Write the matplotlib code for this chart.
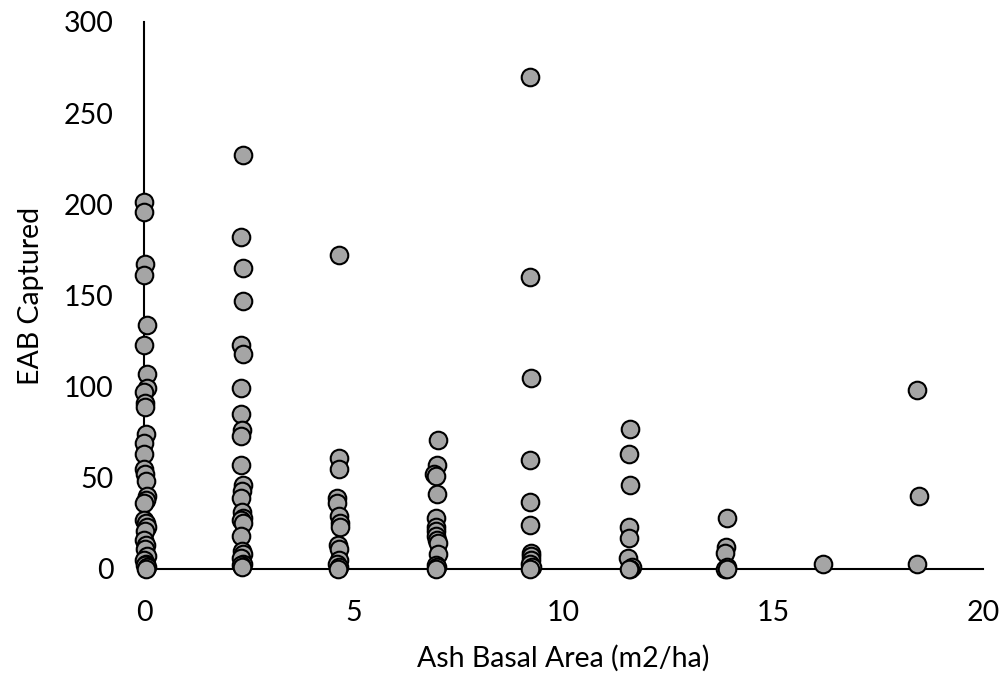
import numpy as np
import matplotlib
matplotlib.use("Agg")
import matplotlib.pyplot as plt

# ash basal area (m2/ha) per trap and beetles captured, grouped by stand
x_g1 = [0.0, 0.0, 0.02, 0.0, 0.08, 0.0, 0.08, 0.08, 0.0, 0.03, 0.02, 0.05, 0.0, 0.0,
        0.0, 0.02, 0.05, 0.08, 0.05, 0.0, 0.0, 0.05, 0.08, 0.02, 0.0, 0.05, 0.02,
        0.08, 0.0, 0.05, 0.02, 0.08, 0.05]
y_g1 = [201, 196, 167, 161, 134, 123, 107, 99, 97, 91, 89, 74, 69, 63,
        55, 52, 48, 40, 38, 36, 27, 25, 23, 21, 16, 13, 11,
        7, 5, 3, 2, 1, 0]

x_g2 = [2.37, 2.32, 2.37, 2.37, 2.32, 2.37, 2.32, 2.32, 2.34, 2.32, 2.32, 2.37, 2.34,
        2.32, 2.34, 2.37, 2.32, 2.37, 2.32, 2.34, 2.37, 2.32, 2.37, 2.32, 2.34]
y_g2 = [227, 182, 165, 147, 123, 118, 99, 85, 76, 73, 57, 46, 43,
        39, 31, 28, 27, 25, 18, 10, 8, 6, 3, 2, 1]

x_g3 = [4.65, 4.65, 4.65, 4.6, 4.6, 4.65, 4.67, 4.67, 4.62, 4.65, 4.65, 4.6, 4.65, 4.62]
y_g3 = [172, 61, 55, 39, 36, 29, 25, 23, 13, 11, 5, 3, 1, 0]

x_g4 = [7.0, 6.98, 6.92, 6.95, 6.98, 6.95, 6.95, 6.97, 6.95, 6.98, 7.0, 7.0, 6.95, 6.98, 6.95]
y_g4 = [71, 57, 52, 51, 41, 28, 23, 21, 18, 16, 14, 8, 2, 1, 0]

x_g5 = [9.2, 9.2, 9.22, 9.2, 9.2, 9.2, 9.22, 9.22, 9.22, 9.2, 9.25, 9.2]
y_g5 = [270, 160, 105, 60, 37, 24, 9, 7, 5, 3, 1, 0]

x_g6 = [11.58, 11.55, 11.58, 11.55, 11.55, 11.53, 11.63, 11.58, 11.55]
y_g6 = [77, 63, 46, 23, 17, 6, 1, 0, 0]

x_g7 = [13.9, 13.87, 13.85, 13.9, 13.85, 13.9]
y_g7 = [28, 12, 9, 1, 0, 0]

x_g8 = [16.18, 18.43, 18.47, 18.43]
y_g8 = [3, 98, 40, 3]

ash_ba = np.concatenate([x_g1, x_g2, x_g3, x_g4, x_g5, x_g6, x_g7, x_g8])
eab = np.concatenate([y_g1, y_g2, y_g3, y_g4, y_g5, y_g6, y_g7, y_g8])

plt.rcParams['font.family'] = ['Lato', 'DejaVu Sans']

fig = plt.figure(figsize=(10.08, 6.76), dpi=100)
ax = fig.add_axes([0.1429, 0.1583, 0.8323, 0.8092])

ax.scatter(ash_ba, eab, s=160, c='#a5a5a5', edgecolors='black',
           linewidths=1.5, zorder=3, clip_on=False)

ax.set_xlim(0, 20)
ax.set_ylim(0, 300)
ax.set_xticks([0, 5, 10, 15, 20])
ax.set_yticks([0, 50, 100, 150, 200, 250, 300])

for side in ['top', 'right']:
    ax.spines[side].set_visible(False)
for side in ['left', 'bottom']:
    ax.spines[side].set_linewidth(1.5)
    ax.spines[side].set_color('black')

ax.tick_params(axis='both', length=0, labelsize=20.5, colors='black')
ax.tick_params(axis='x', pad=22)
ax.tick_params(axis='y', pad=22)

ax.set_xlabel('Ash Basal Area (m2/ha)', fontsize=20.5, labelpad=14)
ax.set_ylabel('EAB Captured', fontsize=20.5, labelpad=14)

fig.savefig('out.png', dpi=100)
